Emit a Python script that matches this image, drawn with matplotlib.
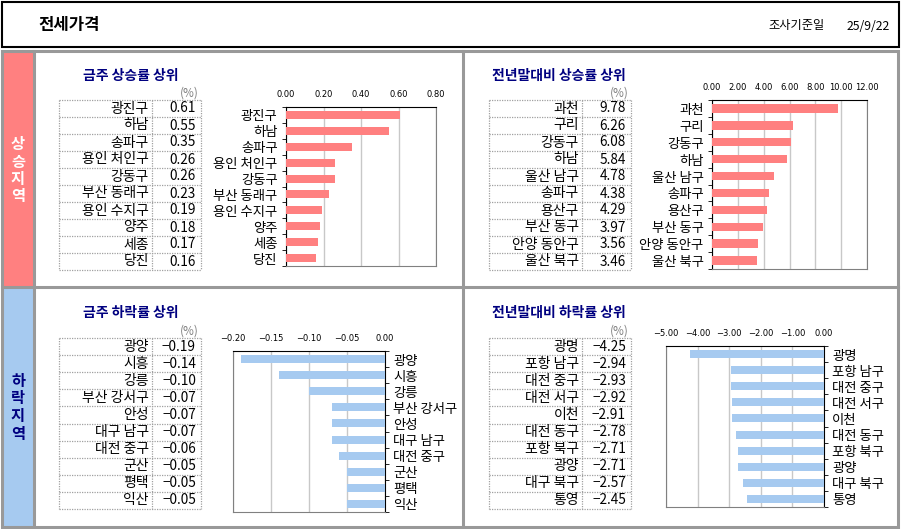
import matplotlib
matplotlib.use("Agg")
import matplotlib.pyplot as plt
from matplotlib.patches import Rectangle

plt.rcParams['font.family'] = ['Noto Sans CJK KR', 'DejaVu Sans']

# ---- data ----
week_up_names = ['광진구', '하남', '송파구', '용인 처인구', '강동구', '부산 동래구', '용인 수지구', '양주', '세종', '당진']
week_up_vals = [0.61, 0.55, 0.35, 0.26, 0.26, 0.23, 0.19, 0.18, 0.17, 0.16]

ytd_up_names = ['과천', '구리', '강동구', '하남', '울산 남구', '송파구', '용산구', '부산 동구', '안양 동안구', '울산 북구']
ytd_up_vals = [9.78, 6.26, 6.08, 5.84, 4.78, 4.38, 4.29, 3.97, 3.56, 3.46]

week_down_names = ['광양', '시흥', '강릉', '부산 강서구', '안성', '대구 남구', '대전 중구', '군산', '평택', '익산']
week_down_vals = [-0.19, -0.14, -0.10, -0.07, -0.07, -0.07, -0.06, -0.05, -0.05, -0.05]

ytd_down_names = ['광명', '포항 남구', '대전 중구', '대전 서구', '이천', '대전 동구', '포항 북구', '광양', '대구 북구', '통영']
ytd_down_vals = [-4.25, -2.94, -2.93, -2.92, -2.91, -2.78, -2.71, -2.71, -2.57, -2.45]

W, H = 901, 529
PINK = '#FF8080'
BLUE = '#A6CAF0'
NAVY = '#000080'
GREY = '#999999'

fig = plt.figure(figsize=(W / 100, H / 100), dpi=100)
bg = fig.add_axes([0, 0, 1, 1])
bg.set_xlim(0, W)
bg.set_ylim(H, 0)
bg.axis('off')


def px_axes(x0, y0, x1, y1):
    return fig.add_axes([x0 / W, 1 - y1 / H, (x1 - x0) / W, (y1 - y0) / H])


# header
bg.add_patch(Rectangle((1.5, 1.5), 897, 45, fill=False, ec='black', lw=1.5))
bg.text(38, 25, '전세가격', fontsize=12, fontweight='bold', va='center', ha='left')
bg.text(768, 26, '조사기준일', fontsize=8.8, va='center', ha='left')
bg.text(890, 26, '25/9/22', fontsize=8.8, va='center', ha='right')

# side bands
bg.add_patch(Rectangle((2, 51), 32, 236, fc=PINK, ec='none'))
bg.add_patch(Rectangle((2, 287), 32, 240, fc=BLUE, ec='none'))
for i, ch in enumerate('상승지역'):
    bg.text(18, 144 + i * 17.5, ch, fontsize=11, fontweight='bold', color='white', ha='center', va='center')
for i, ch in enumerate('하락지역'):
    bg.text(18, 381 + i * 17.5, ch, fontsize=11, fontweight='bold', color=NAVY, ha='center', va='center')

# frame lines
bg.add_patch(Rectangle((2, 51), 896, 476, fill=False, ec=GREY, lw=2.2))
bg.plot([2, 898], [287, 287], color=GREY, lw=2.2)
bg.plot([34, 34], [51, 527], color=GREY, lw=2.2)
bg.plot([463, 463], [51, 527], color=GREY, lw=2.2)


def draw_table(x0, xm, x1, y0, y1, names, vals, title, tx, ty):
    bg.text(tx, ty, title, fontsize=10, fontweight='bold', color=NAVY, ha='left', va='center')
    bg.text(x1 - 2, y0 - 7, '(%)', fontsize=8.5, color='#808080', ha='right', va='center')
    n = len(names)
    rh = (y1 - y0) / n
    kw = dict(color='#A0A0A0', lw=0.9, ls=(0, (1, 1)))
    for i in range(n + 1):
        bg.plot([x0, x1], [y0 + i * rh, y0 + i * rh], **kw)
    for x in (x0, xm, x1):
        bg.plot([x, x], [y0, y1], **kw)
    for i, (nm, v) in enumerate(zip(names, vals)):
        yc = y0 + (i + 0.5) * rh
        bg.text(xm - 3, yc, nm, fontsize=10, ha='right', va='center')
        bg.text(x1 - 5, yc, f'{v:.2f}'.replace('-', '\u2212'), fontsize=9.8, ha='right', va='center')


def draw_bars(rect, names, vals, color, xlim, ticks, right):
    ax = px_axes(*rect)
    pos = list(range(len(names)))
    ax.barh(pos, vals, height=0.5, color=color, zorder=3)
    ax.set_xlim(*xlim)
    ax.set_ylim(len(names) - 0.5, -0.5)
    ax.set_xticks(ticks)
    ax.set_xticklabels([f'{t:.2f}'.replace('-', '\u2212') for t in ticks], family='DejaVu Sans', fontsize=6)
    ax.xaxis.tick_top()
    ax.tick_params(axis='x', length=0, pad=6)
    ax.grid(axis='x', color='#C8C8C8', lw=1, zorder=0)
    ax.set_yticks(pos)
    ax.set_yticklabels(names, fontsize=9.6)
    ax.set_yticks([p - 0.5 for p in range(len(names) + 1)], minor=True)
    ax.tick_params(axis='y', which='major', length=0, pad=6)
    ax.tick_params(axis='y', which='minor', length=3, direction='out', color='black')
    if right:
        ax.yaxis.tick_right()
        ax.tick_params(axis='y', which='both', left=False, right=True)
        ax.spines['right'].set_color('black')
        ax.spines['left'].set_color('#808080')
    else:
        ax.spines['left'].set_color('black')
        ax.spines['right'].set_color('#808080')
    ax.spines['top'].set_color('black')
    ax.spines['bottom'].set_color('#808080')
    return ax


draw_table(59, 152, 201, 100, 270, week_up_names, week_up_vals, '금주 상승률 상위', 83, 76)
draw_bars((286, 107, 436, 266), week_up_names, week_up_vals, PINK, (0, 0.8),
          [0, 0.2, 0.4, 0.6, 0.8], False)

draw_table(489, 582, 631, 100, 270, ytd_up_names, ytd_up_vals, '전년말대비 상승률 상위', 492, 76)
draw_bars((712, 100, 867, 269), ytd_up_names, ytd_up_vals, PINK, (0, 12),
          [0, 2, 4, 6, 8, 10, 12], False)

draw_table(59, 152, 201, 338, 509, week_down_names, week_down_vals, '금주 하락률 상위', 83, 313)
draw_bars((233, 351, 385, 512), week_down_names, week_down_vals, BLUE, (-0.2, 0),
          [-0.2, -0.15, -0.1, -0.05, 0], True)

draw_table(489, 582, 631, 338, 509, ytd_down_names, ytd_down_vals, '전년말대비 하락률 상위', 492, 313)
draw_bars((666, 346, 824, 507), ytd_down_names, ytd_down_vals, BLUE, (-5, 0),
          [-5, -4, -3, -2, -1, 0], True)

fig.savefig('out.png', dpi=100)
